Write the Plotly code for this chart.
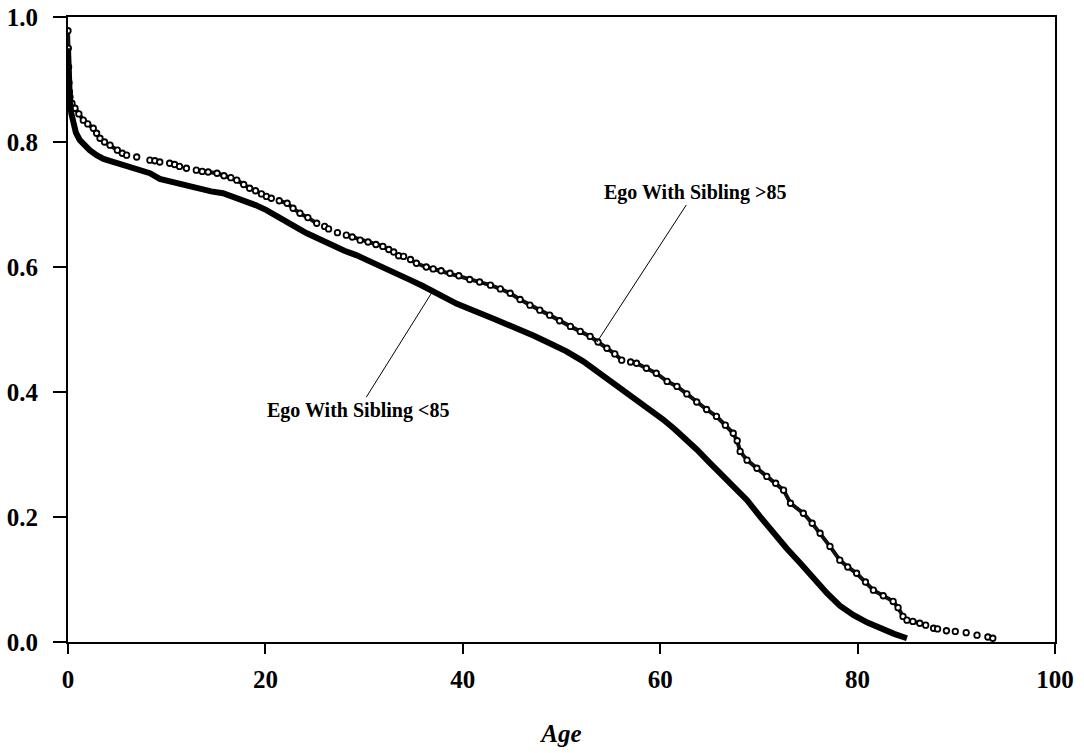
import plotly.graph_objects as go

# Ego With Sibling <85 (solid curve)
lower_age = [0.0, 0.05, 0.1, 0.2, 0.35, 0.54, 0.8, 1.2, 1.7, 2.2, 2.9, 3.6, 4.4, 5.3, 6.4, 7.6, 8.3, 9.3,
             10.3, 11.2, 12.3, 13.4, 14.5, 15.7, 16.8, 17.8, 19.0, 20.1, 21.3, 22.5, 23.4, 24.2, 25.6,
             26.9, 28.0, 29.2, 30.5, 31.9, 33.3, 34.7, 35.9, 37.0, 38.2, 39.4, 40.6, 41.7, 43.0, 44.2,
             45.5, 47.2, 48.8, 50.5, 52.2, 53.0, 53.9, 55.1, 56.3, 57.6, 59.0, 60.3, 61.5, 62.6, 63.7,
             65.0, 66.4, 67.6, 68.8, 70.1, 71.5, 72.8, 74.2, 75.5, 76.9, 78.2, 79.6, 81.0, 82.3, 83.7, 85.0]
lower_surv = [0.95, 0.91, 0.885, 0.862, 0.845, 0.83, 0.815, 0.803, 0.794, 0.787, 0.779, 0.773, 0.769, 0.765,
              0.760, 0.755, 0.750, 0.741, 0.737, 0.734, 0.730, 0.726, 0.721, 0.718, 0.712, 0.707, 0.699,
              0.691, 0.681, 0.670, 0.661, 0.654, 0.643, 0.633, 0.626, 0.619, 0.609, 0.598, 0.588, 0.579,
              0.570, 0.560, 0.551, 0.541, 0.534, 0.528, 0.518, 0.510, 0.502, 0.490, 0.478, 0.465, 0.449,
              0.440, 0.430, 0.417, 0.403, 0.389, 0.371, 0.356, 0.340, 0.325, 0.308, 0.287, 0.265, 0.246,
              0.227, 0.201, 0.174, 0.150, 0.126, 0.102, 0.078, 0.058, 0.043, 0.031, 0.022, 0.013, 0.006]

# Ego With Sibling >85 (beaded curve); None marks visible gaps between dots
upper_age = [0.0, 0.03, 0.06, 0.1, 0.15, 0.2, 0.4, 0.71, 1.1, 1.55, 2.0, 2.56, 2.9, 3.24, 3.7, 4.26,
             5.0, 5.5, 5.94, None, 6.96, None, 8.3, 8.8, 9.3, None, 10.3, 10.8, 11.3, None, 12.0, None,
             13.0, 13.6, 14.2, 15.1, 15.8, 16.5, 17.1, 17.8, 18.4, 19.0, 19.6, 20.1, 20.6, None,
             21.4, 22.2, 22.8, 23.5, 24.3, 25.2, None, 26.0, 26.4, None, 27.3, None, 28.2, 28.8, 29.6,
             30.4, 31.2, 31.9, 32.5, 33.0, None, 33.5, 34.0, None, 34.7, 35.3, 36.3, 37.0, 37.8, 38.7,
             39.6, 40.7, 41.7, 42.8, 43.8, 44.8, 45.8, 46.8, 47.8, 48.8, 49.8, 50.9, 51.9, 52.9, 53.7,
             54.6, 55.4, 56.1, None, 57.0, 57.6, 58.6, 59.6, 60.7, 61.7, 62.7, 63.7, 64.7, 65.7, 66.6,
             67.4, 67.8, 68.1, 68.8, 69.8, 70.8, 71.7, 72.5, 73.2, 74.5, 75.4, 76.2, 77.2, 78.2, 79.0,
             79.9, 80.8, 81.6, 82.6, 83.6, 84.1, 84.6, 85.0, 85.6, 86.3, 86.9, None, 87.7, 88.1, None,
             89.0, None, 89.9, None, 91.0, None, 92.1, None, 93.2, 93.7]
upper_surv = [0.978, 0.95, 0.92, 0.895, 0.88, 0.872, 0.862, 0.854, 0.845, 0.835, 0.829, 0.822, 0.814,
              0.806, 0.800, 0.795, 0.787, 0.782, 0.779, None, 0.776, None, 0.771, 0.770, 0.768, None,
              0.766, 0.764, 0.761, None, 0.758, None, 0.755, 0.753, 0.752, 0.750, 0.746, 0.743, 0.739,
              0.732, 0.726, 0.722, 0.717, 0.713, 0.710, None, 0.706, 0.702, 0.694, 0.686, 0.679, 0.670,
              None, 0.665, 0.661, None, 0.655, None, 0.651, 0.648, 0.643, 0.640, 0.636, 0.633, 0.628,
              0.624, None, 0.618, 0.617, None, 0.612, 0.606, 0.600, 0.597, 0.594, 0.590, 0.586, 0.580,
              0.576, 0.571, 0.565, 0.558, 0.548, 0.539, 0.531, 0.523, 0.514, 0.505, 0.497, 0.489, 0.480,
              0.470, 0.461, 0.451, None, 0.448, 0.446, 0.438, 0.430, 0.417, 0.409, 0.397, 0.384, 0.372,
              0.361, 0.347, 0.334, 0.322, 0.305, 0.291, 0.278, 0.265, 0.254, 0.243, 0.222, 0.206, 0.190,
              0.174, 0.153, 0.131, 0.120, 0.110, 0.096, 0.083, 0.074, 0.065, 0.055, 0.041, 0.035, 0.033,
              0.030, 0.027, None, 0.022, 0.021, None, 0.018, None, 0.017, None, 0.015, None, 0.011, None,
              0.008, 0.006]

x_ticks = [0, 20, 40, 60, 80, 100]
y_ticks = [0.0, 0.2, 0.4, 0.6, 0.8, 1.0]
y_tick_labels = ["0.0", "0.2", "0.4", "0.6", "0.8", "1.0"]

label_lower = "Ego With Sibling &lt;85"
label_upper = "Ego With Sibling &gt;85"

FONT = "Liberation Serif"

fig = go.Figure()
fig.add_trace(go.Scatter(x=upper_age, y=upper_surv, mode="lines+markers", connectgaps=False,
                         line=dict(color="#111111", width=4),
                         marker=dict(symbol="circle", size=5.5, color="white",
                                     line=dict(width=1.8, color="black")),
                         showlegend=False, hoverinfo="skip"))
fig.add_trace(go.Scatter(x=lower_age, y=lower_surv, mode="lines",
                         line=dict(color="black", width=6),
                         showlegend=False, hoverinfo="skip"))

fig.add_annotation(x=36.9, y=0.56, ax=29.4, ay=0.371, axref="x", ayref="y", xref="x", yref="y",
                   text="<b>" + label_lower + "</b>", showarrow=True, arrowhead=0, arrowwidth=1,
                   arrowcolor="black", font=dict(family=FONT, size=20, color="black"))
fig.add_annotation(x=53.6, y=0.48, ax=63.5, ay=0.72, axref="x", ayref="y", xref="x", yref="y",
                   text="<b>" + label_upper + "</b>", showarrow=True, arrowhead=0, arrowwidth=1,
                   arrowcolor="black", font=dict(family=FONT, size=20, color="black"))

axis_common = dict(showgrid=False, zeroline=False, showline=True, linecolor="black", linewidth=2,
                   mirror=True, ticks="outside", tickcolor="black", tickwidth=2, automargin=False,
                   tickfont=dict(family=FONT, size=25, color="black", weight="bold"))

fig.update_xaxes(range=[0, 100], tickvals=x_ticks, ticktext=[str(v) for v in x_ticks], ticklen=10,
                 ticklabelstandoff=4,
                 title=dict(text="<b><i>Age</i></b>", font=dict(family=FONT, size=25, color="black"),
                            standoff=32),
                 **axis_common)
fig.update_yaxes(range=[0, 1.0], tickvals=y_ticks, ticktext=y_tick_labels, ticklen=13,
                 ticklabelstandoff=10, **axis_common)

fig.update_layout(width=1084, height=753, margin=dict(l=68, r=29, t=17, b=111),
                  plot_bgcolor="white", paper_bgcolor="white",
                  font=dict(family=FONT, color="black"))

fig.write_html("out.html", config={"displayModeBar": False},
               post_script="document.body.style.margin='0';")
